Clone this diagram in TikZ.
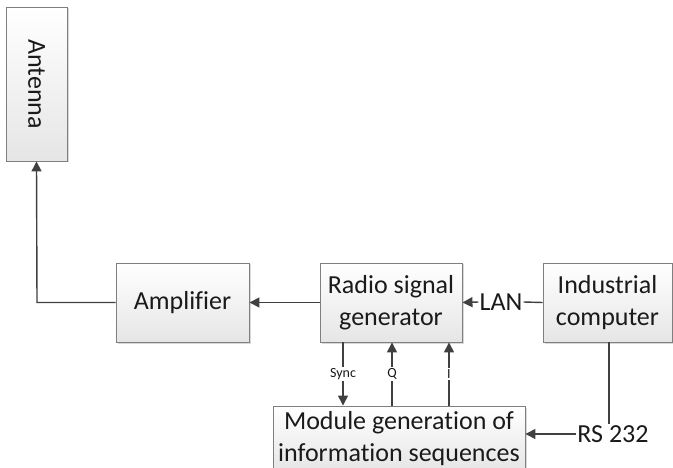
\documentclass[tikz,border=0pt]{standalone}
\usepackage{fontspec}
\setmainfont[Ligatures=NoCommon]{Carlito}
\usetikzlibrary{arrows.meta,shadows}
\definecolor{boxline}{HTML}{7F7F7F}
\definecolor{wire}{HTML}{404040}
\definecolor{txt}{HTML}{1A1A1A}
\begin{document}
\begin{tikzpicture}[x=1pt,y=-1pt,
  blk/.style={draw=boxline, line width=0.9pt, top color=white, bottom color=black!10,
    drop shadow={shadow xshift=1.5pt, shadow yshift=-1.5pt, opacity=0.25, fill=black!60},
    align=center, inner sep=0pt, text=txt,
    font=\fontsize{26}{32}\selectfont},
  wire/.style={draw=wire, line width=1.4pt},
  arr/.style={wire, -{Triangle[length=10pt,width=10pt]}},
  lbl/.style={inner sep=1pt, text=txt, font=\fontsize{26}{32}\selectfont},
  small/.style={fill=white, inner sep=1.5pt, text=txt, font=\fontsize{14}{16}\selectfont}
]
\useasboundingbox (0,0) rectangle (673,468);
\begin{scope}
\clip (0,0) rectangle (673,468);
\node[blk, minimum width=154, minimum height=61, rotate=-90] (ant) at (36.5,84) {Antenna};
\node[blk, minimum width=133, minimum height=79] (amp) at (182.5,302.5) {Amplifier};
\node[blk, minimum width=142, minimum height=79] (rsg) at (391,302.5) {Radio signal\\generator};
\node[blk, minimum width=129, minimum height=79] (ic) at (607.5,302.5) {Industrial\\computer};
\node[blk, minimum width=252, minimum height=66] (mod) at (399,439) {Module generation of\\information sequences};
\end{scope}
\node[lbl] (lan) at (501,302) {LAN};
\node[lbl] (rs) at (613,434) {RS 232};
\coordinate (corner) at (37,302.5);
\draw[arr] (amp.west) -- (corner) -- (ant.east);
\draw[arr] (rsg.west) -- (amp.east);
\draw[wire] (ic.west) -- (lan.east);
\draw[arr] (lan.west) -- (rsg.east);
\draw[wire] (ic.south -| 609,0) -- (rs.north -| 609,0);
\draw[arr] (rs.west) -- (rs.west -| mod.east);
\draw[arr] (rsg.south -| 343,0) -- node[small] {Sync} (mod.north -| 343,0);
\draw[arr] (mod.north -| 392,0) -- node[small] {Q} (rsg.south -| 392,0);
\draw[arr] (mod.north -| 449,0) -- node[small] {I} (rsg.south -| 449,0);
\end{tikzpicture}
\end{document}
